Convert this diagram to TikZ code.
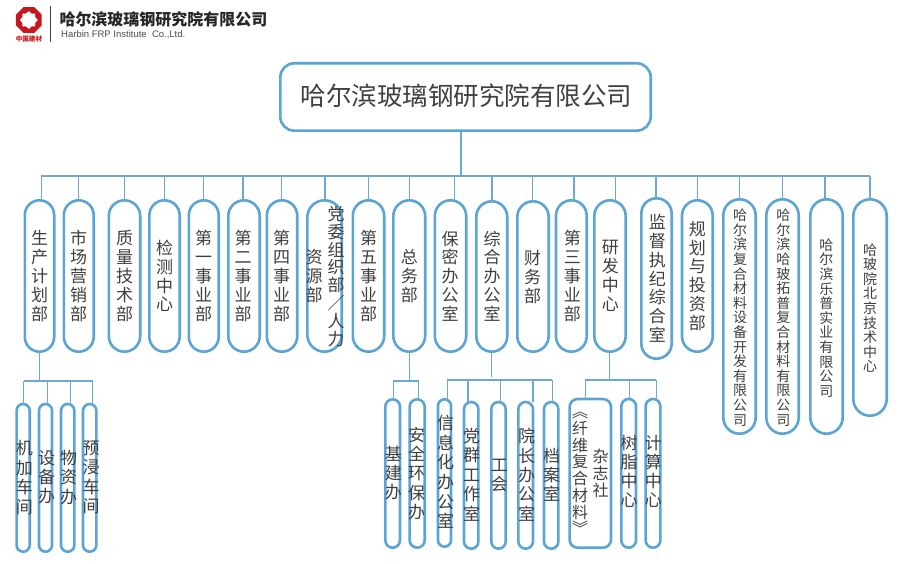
\documentclass[tikz,border=0pt]{standalone}
\usepackage{fontspec}
\setmainfont{Liberation Sans}
\newfontfamily\cjk{Noto Sans CJK SC}
\definecolor{stroke}{HTML}{5BA4D6}
\definecolor{wire}{HTML}{6DAACF}
\definecolor{ink}{HTML}{404040}
\definecolor{logored}{HTML}{C9161D}
\tikzset{
  orgbox/.style={draw=stroke,line width=2.6pt,fill=white,inner sep=0pt,outer sep=0pt},
  conn/.style={draw=wire,line width=1.2pt},
  vtxt/.style={inner sep=0pt,outer sep=0pt,text=ink,align=center},
}
\newcommand\orgbox[6][-1]{%
  \pgfmathsetmacro\myw{#4-#3-2.6}%
  \pgfmathsetmacro\myh{#6-#5-2.6}%
  \pgfmathsetmacro\myr{#1<0?\myw/2-0.01:#1}%
  \node[orgbox,minimum width=\myw pt,minimum height=\myh pt,rounded corners=\myr pt]
    (#2) at ({(#3+#4)/2},{(#5+#6)/2}) {};}
\newcommand\vt[6]{%
  \node[vtxt,font=\cjk\fontsize{#4}{#5}\selectfont] (#1) at (#2,#3) {#6};}
\newcommand\dropto[3]{% x, bus y, node
  \coordinate (d) at (#1,#2); \draw[conn] (d) -- (d |- #3.north);}
\begin{document}
\begin{tikzpicture}[x=1pt,y=-1pt]
\useasboundingbox[fill=white] (0,0) rectangle (900,564);
% header
\fill[logored] plot[samples at={0,...,7}] ({28.8+14*cos(22.5+\x*45)},{20+14*sin(22.5+\x*45)}) -- cycle;
\fill[white] plot[samples at={0,...,15}] ({28.8+(mod(\x,2)==0?9:7)*cos(\x*22.5)},{20+(mod(\x,2)==0?9:7)*sin(\x*22.5)}) -- cycle;
\node[inner sep=0pt,text=logored,font=\cjk\bfseries\fontsize{6.6}{7}\selectfont] (brand) at (29,39) {中国建材};
\coordinate (divA) at (50.7,6); \coordinate (divB) at (50.7,42);
\draw[draw=black!75,line width=0.8pt] (divA) -- (divB);
\node[inner sep=0pt,anchor=west,text=black!85,font=\cjk\bfseries\fontsize{16}{18}\selectfont] (cname) at (59.3,19.5) {哈尔滨玻璃钢研究院有限公司};
\node[inner sep=0pt,anchor=west,text=black!70,font=\fontsize{9.5}{10}\selectfont] (ename) at (61,34.5) {Harbin FRP Institute\ \ Co.,Ltd.};
% connectors first
\coordinate (trunk) at (461,176);
\coordinate (busL) at (41.3,176); \coordinate (busR) at (870,176);
% top box
\orgbox[14]{top}{279}{652}{62}{132}
\node[vtxt,font=\cjk\fontsize{25.5}{28}\selectfont] (toplabel) at (466.5,96) {哈尔滨玻璃钢研究院有限公司};
\draw[conn] (trunk |- top.south) -- (trunk);
\draw[conn] (busL) -- (busR);
% departments
\orgbox{a1}{23.5}{55.5}{199}{353}
\orgbox{a2}{62.5}{95}{199}{353}
\orgbox{a3}{107.5}{141.5}{199}{353}
\orgbox{a4}{148}{181}{199}{353}
\orgbox{a5}{187.5}{220}{199}{353}
\orgbox{a6}{227}{261}{199}{353}
\orgbox{a7}{265.5}{298.5}{199}{353}
\orgbox{a8}{306}{343}{199}{353}
\orgbox{a9}{351.5}{385.5}{199}{353}
\orgbox{a10}{392}{426.5}{199}{353}
\orgbox{a11}{433.5}{467.5}{199}{353}
\orgbox{a12}{475}{508.5}{200}{353}
\orgbox{a13}{516}{550}{200}{353}
\orgbox{a14}{554.7}{588}{199}{353}
\orgbox{a15}{593}{627}{199}{353}
\orgbox{a16}{640}{673}{197}{360}
\orgbox{a17}{680.7}{714}{199}{353}
\orgbox{a18}{722}{757}{198}{435}
\orgbox{a19}{765}{800}{198}{435}
\orgbox{a20}{809}{844}{198}{435}
\orgbox{a21}{852}{888}{198}{417}
\dropto{41.3}{176}{a1}
\dropto{78.7}{176}{a2}
\dropto{124.7}{176}{a3}
\dropto{164.7}{176}{a4}
\dropto{203.7}{176}{a5}
\dropto{243}{176}{a6}
\dropto{281.3}{176}{a7}
\dropto{325}{176}{a8}
\dropto{368.7}{176}{a9}
\dropto{409.3}{176}{a10}
\dropto{454.7}{176}{a11}
\dropto{492}{176}{a12}
\dropto{532.7}{176}{a13}
\dropto{574}{176}{a14}
\dropto{615.7}{176}{a15}
\dropto{656}{176}{a16}
\dropto{697.7}{176}{a17}
\dropto{739.3}{176}{a18}
\dropto{782.3}{176}{a19}
\dropto{825}{176}{a20}
\dropto{870}{176}{a21}
\vt{ta1}{39.5}{276}{17}{18.8}{生\\产\\计\\划\\部}
\vt{ta2}{78.7}{276}{17}{18.8}{市\\场\\营\\销\\部}
\vt{ta3}{124.7}{276}{17}{18.8}{质\\量\\技\\术\\部}
\vt{ta4}{164.7}{276}{17}{18.8}{检\\测\\中\\心}
\vt{ta5}{203.7}{276}{17}{18.8}{第\\一\\事\\业\\部}
\vt{ta6}{243}{276}{17}{18.8}{第\\二\\事\\业\\部}
\vt{ta7}{281.7}{276}{17}{18.8}{第\\四\\事\\业\\部}
\vt{ta8}{336}{276.5}{17}{17.9}{党\\委\\组\\织\\部\\／\\人\\力}
\vt{tb8}{314}{276}{17}{18.8}{资\\源\\部}
\vt{ta9}{368.7}{276}{17}{18.8}{第\\五\\事\\业\\部}
\vt{ta10}{409.3}{276}{17}{18.8}{总\\务\\部}
\vt{ta11}{450}{276}{17}{18.8}{保\\密\\办\\公\\室}
\vt{ta12}{492}{276}{17}{18.8}{综\\合\\办\\公\\室}
\vt{ta13}{532.7}{277}{17}{18.8}{财\\务\\部}
\vt{ta14}{572.3}{276}{17}{18.8}{第\\三\\事\\业\\部}
\vt{ta15}{610.3}{276}{17}{18.8}{研\\发\\中\\心}
\vt{ta16}{657.3}{278.4}{17}{18.8}{监\\督\\执\\纪\\综\\合\\室}
\vt{ta17}{697.3}{276}{17}{18.8}{规\\划\\与\\投\\资\\部}
\vt{ta18}{740}{317.5}{14}{14.6}{哈\\尔\\滨\\复\\合\\材\\料\\设\\备\\开\\发\\有\\限\\公\\司}
\vt{ta19}{783.3}{317.5}{14}{14.6}{哈\\尔\\滨\\哈\\玻\\拓\\普\\复\\合\\材\\料\\有\\限\\公\\司}
\vt{ta20}{826.3}{318}{14}{14.6}{哈\\尔\\滨\\乐\\普\\实\\业\\有\\限\\公\\司}
\vt{ta21}{870}{308}{14}{14.6}{哈\\玻\\院\\北\\京\\技\\术\\中\\心}
% lower group 1
\coordinate (g1) at (39.3,381);
\orgbox{b1}{15.3}{31}{402.7}{553}
\orgbox{b2}{37.7}{53.3}{402.7}{553}
\orgbox{b3}{59.7}{75.7}{402.7}{553}
\orgbox{b4}{81.7}{97.7}{402.7}{553}
\draw[conn] (g1 |- a1.south) -- (g1);
\draw[conn] (23.7,381) coordinate (g1L) -- (92.7,381) coordinate (g1R);
\dropto{23.7}{381}{b1}
\dropto{47.3}{381}{b2}
\dropto{70.7}{381}{b3}
\dropto{92.7}{381}{b4}
\vt{tb1}{24.3}{477.5}{17}{19.6}{机\\加\\车\\间}
\vt{tb2}{46.7}{477.5}{17}{19.2}{设\\备\\办}
\vt{tb3}{68.7}{477.5}{17}{19.2}{物\\资\\办}
\vt{tb4}{91}{477.5}{17}{19.6}{预\\浸\\车\\间}
% lower group 2
\coordinate (g2) at (409.3,381);
\orgbox{c1}{384}{401.3}{398}{549}
\orgbox{c2}{408.3}{426}{398}{549}
\draw[conn] (g2 |- a10.south) -- (g2);
\draw[conn] (393.3,381) coordinate (g2L) -- (418.7,381) coordinate (g2R);
\dropto{393.3}{381}{c1}
\dropto{418.7}{381}{c2}
\vt{tc1}{393.3}{473}{17}{19.2}{基\\建\\办}
\vt{tc2}{416.7}{473.5}{17}{19.2}{安\\全\\环\\保\\办}
% lower group 3
\coordinate (g3) at (491.7,377);
\orgbox{e1}{436.7}{452.3}{398}{548}
\orgbox{e2}{462.7}{479.7}{400.7}{550}
\orgbox{e3}{490}{507}{400.7}{550}
\orgbox{e4}{517}{534.3}{400.7}{550}
\orgbox{e5}{542.7}{559.7}{400.7}{550}
\draw[conn] (g3 |- a12.south) -- (g3);
\draw[conn] (447.3,380) coordinate (g3L) -- (552.3,380) coordinate (g3R);
\dropto{447.3}{380}{e1}
\dropto{468}{380}{e2}
\dropto{500.7}{380}{e3}
\dropto{533}{380}{e4}
\dropto{552.3}{380}{e5}
\vt{te1}{445.7}{472}{17}{19.7}{信\\息\\化\\办\\公\\室}
\vt{te2}{471.7}{474.7}{17}{19.4}{党\\群\\工\\作\\室}
\vt{te3}{499.3}{475}{17}{19}{工\\会}
\vt{te4}{526.7}{474.7}{17}{19.4}{院\\长\\办\\公\\室}
\vt{te5}{551.7}{474.7}{17}{19}{档\\案\\室}
% lower group 4
\coordinate (g4) at (609.3,380);
\orgbox[8]{f1}{568.3}{612.3}{397.7}{549}
\orgbox{f2}{620}{637.3}{397.7}{549}
\orgbox{f3}{644.3}{661.7}{397.7}{549}
\draw[conn] (g4 |- a15.south) -- (g4);
\draw[conn] (585.3,380) coordinate (g4L) -- (656.3,380) coordinate (g4R);
\dropto{585.3}{380}{f1}
\dropto{629.7}{380}{f2}
\dropto{656.3}{380}{f3}
\vt{tf1}{580}{473.5}{16}{16.7}{︽\\纤\\维\\复\\合\\材\\料\\︾}
\vt{tg1}{600.7}{473}{16}{17}{杂\\志\\社}
\vt{tf2}{629}{471.5}{17}{19}{树\\脂\\中\\心}
\vt{tf3}{653.3}{471.5}{17}{19}{计\\算\\中\\心}
\end{tikzpicture}
\end{document}
